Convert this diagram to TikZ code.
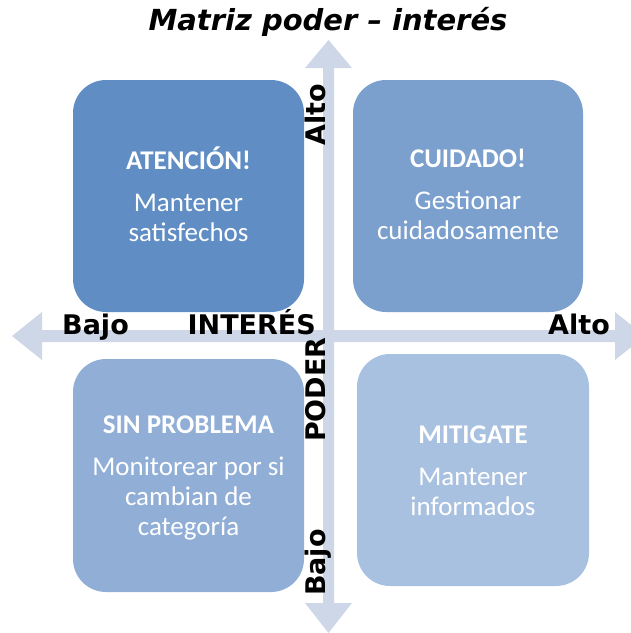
\documentclass[tikz,border=0pt]{standalone}
\usepackage{fontspec}
\newfontfamily\lbl{DejaVu Sans}
\newfontfamily\boxf{Carlito}
\definecolor{cTL}{HTML}{5F8DC4}
\definecolor{cTR}{HTML}{7BA0CE}
\definecolor{cBL}{HTML}{90AED6}
\definecolor{cBR}{HTML}{A9C1E0}
\definecolor{arr}{HTML}{CED7E8}
\begin{document}
\begin{tikzpicture}[x=1pt,y=-1pt,
  quad/.style={rounded corners=33pt},
  boxtext/.style={text=white,align=center,font=\boxf\fontsize{27}{30}\selectfont},
  axlabel/.style={font=\lbl\bfseries\fontsize{27}{30}\selectfont,text=black,inner sep=0pt}]
\useasboundingbox (0,0) rectangle (631,633);
\clip (0,0) rectangle (631,633);
% axes
\fill[arr] (323,68) -- (305,68) -- (328.5,40) -- (352,68) -- (334,68)
  -- (334,603) -- (352,603) -- (328.5,633) -- (305,603) -- (323,603) -- cycle;
\fill[arr] (42,330) -- (42,312) -- (12,336) -- (42,360) -- (42,342)
  -- (615,342) -- (615,360) -- (645,336) -- (615,312) -- (615,330) -- cycle;
% quadrants
\fill[cTL,quad] (73,80) rectangle (304,312);
\fill[cTR,quad] (353,80) rectangle (583,312);
\fill[cBL,quad] (73,359) rectangle (304,592);
\fill[cBR,quad] (357,354) rectangle (589,586);
\node[boxtext] (tl) at (188.5,194) {\textbf{ATENCIÓN!}\\[12pt]Mantener\\satisfechos};
\node[boxtext] (tr) at (468,194) {\textbf{CUIDADO!}\\[12pt]Gestionar\\cuidadosamente};
\node[boxtext] (bl) at (188.5,478) {\textbf{SIN PROBLEMA}\\[12pt]Monitorear por si\\cambian de\\categoría};
\node[boxtext] (br) at (473,471) {\textbf{MITIGATE}\\[12pt]Mantener\\informados};
% title
\node[font=\lbl\bfseries\itshape\fontsize{29}{32}\selectfont,inner sep=0pt] (title) at (328,22) {Matriz poder – interés};
% axis labels
\node[axlabel,anchor=base west] (bajoh) at (62,334) {Bajo};
\node[axlabel,anchor=base east] (inter) at (316,334) {INTERÉS};
\node[axlabel,anchor=base east] (altoh) at (610,334) {Alto};
\node[axlabel,rotate=90,anchor=base east] (altov) at (325,84) {Alto};
\node[axlabel,rotate=90,anchor=base west] (poder) at (325,442) {PODER};
\node[axlabel,rotate=90,anchor=base west] (bajov) at (325,596) {Bajo};
\end{tikzpicture}
\end{document}
